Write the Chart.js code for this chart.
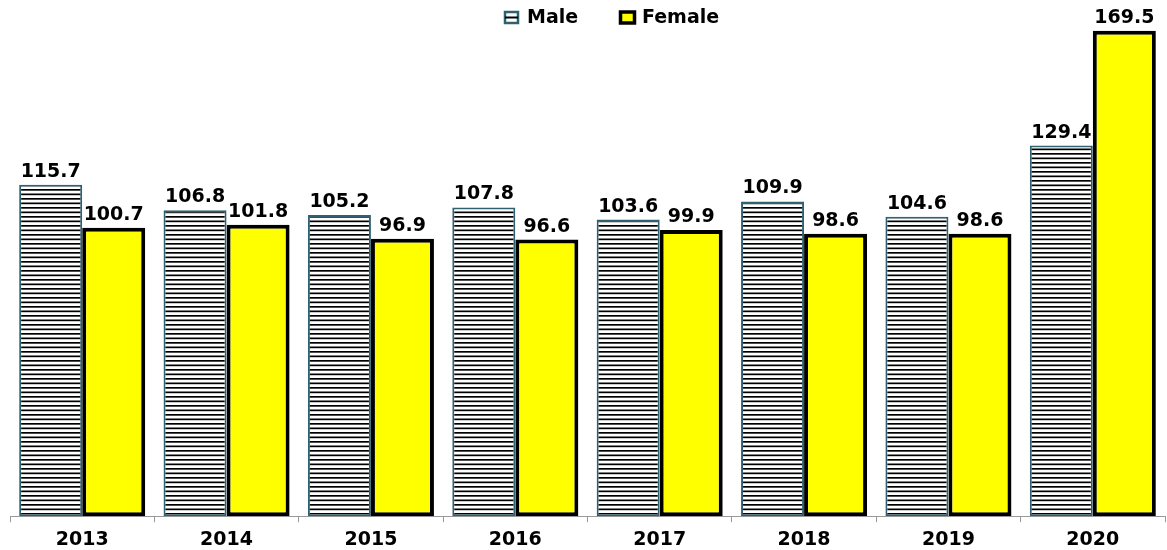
<!DOCTYPE html>
<html>
<head>
<meta charset="utf-8">
<script src="https://cdn.jsdelivr.net/npm/chart.js@4.4.1/dist/chart.umd.min.js"></script>
<style>
  html, body { margin: 0; padding: 0; background: #ffffff; }
  #box { width: 1167px; height: 550px; position: relative; }
</style>
</head>
<body>
<div id="box"><canvas id="graficoSexo"></canvas></div>
<script>
// ==========================
// DATA
// ==========================
const anos = ["2013", "2014", "2015", "2016", "2017", "2018", "2019", "2020"];
const valoresMale = [115.7, 106.8, 105.2, 107.8, 103.6, 109.9, 104.6, 129.4];
const valoresFemale = [100.7, 101.8, 96.9, 96.6, 99.9, 98.6, 98.6, 169.5];
const nomesSeries = ["Male", "Female"];

const FONTE = "bold 19px 'DejaVu Sans', Arial, sans-serif";

// horizontal stripes for the Male bars
function criarListras() {
  const c = document.createElement("canvas");
  c.width = 8;
  c.height = 9;
  const ctx = c.getContext("2d");
  ctx.fillStyle = "#ffffff";
  ctx.fillRect(0, 0, 8, 9);
  ctx.fillStyle = "#000000";
  ctx.fillRect(0, 0, 8, 1.7);
  ctx.fillRect(0, 4.5, 8, 1.7);
  return ctx.createPattern(c, "repeat");
}

const listras = criarListras();

// ==========================
// VALUE LABELS + LEGEND
// ==========================
const rotulosPlugin = {
  id: "rotulos",
  afterDatasetsDraw(chart) {
    const ctx = chart.ctx;
    ctx.save();
    ctx.font = FONTE;
    ctx.fillStyle = "#000000";
    ctx.textAlign = "center";
    ctx.textBaseline = "alphabetic";
    chart.data.datasets.forEach((ds, i) => {
      const meta = chart.getDatasetMeta(i);
      meta.data.forEach((bar, j) => {
        ctx.fillText(ds.data[j].toFixed(1), bar.x, bar.y - 8);
      });
    });

    // legend: striped box for Male, yellow box for Female
    const male = chart.data.datasets[0];
    const female = chart.data.datasets[1];
    ctx.fillStyle = "#ffffff";
    ctx.fillRect(504, 11, 15, 12);
    ctx.strokeStyle = male.borderColor;
    ctx.lineWidth = 2.5;
    ctx.strokeRect(505, 12, 13, 11);
    ctx.fillStyle = "#000000";
    ctx.fillRect(505, 16.5, 13, 2);

    ctx.fillStyle = female.backgroundColor;
    ctx.fillRect(619, 11, 17, 13);
    ctx.strokeStyle = female.borderColor;
    ctx.lineWidth = 3.5;
    ctx.strokeRect(620.5, 12, 14, 11);

    ctx.textAlign = "left";
    ctx.textBaseline = "middle";
    ctx.fillStyle = "#000000";
    ctx.fillText(nomesSeries[0], 527, 18);
    ctx.fillText(nomesSeries[1], 642, 18);
    ctx.restore();
  },
};

new Chart(document.getElementById("graficoSexo"), {
  type: "bar",
  data: {
    labels: anos,
    datasets: [
      {
        label: nomesSeries[0],
        data: valoresMale,
        backgroundColor: listras,
        borderColor: "#2f6270",
        borderWidth: 2,
        borderSkipped: false,
        categoryPercentage: 0.873,
        barPercentage: 1,
      },
      {
        label: nomesSeries[1],
        data: valoresFemale,
        backgroundColor: "#ffff00",
        borderColor: "#000000",
        borderWidth: 4,
        borderSkipped: false,
        categoryPercentage: 0.873,
        barPercentage: 1,
      },
    ],
  },
  options: {
    responsive: true,
    maintainAspectRatio: false,
    animation: false,
    layout: {
      padding: { left: 10, right: 2, top: 5, bottom: -7 },
    },
    plugins: {
      legend: { display: false },
      tooltip: { enabled: false },
    },
    scales: {
      x: {
        grid: {
          offset: true,
          drawOnChartArea: false,
          drawTicks: true,
          tickLength: 6,
          color: "#999999",
        },
        border: { display: true, color: "#999999", width: 1 },
        ticks: {
          color: "#000000",
          padding: 6,
          font: { family: "'DejaVu Sans', Arial, sans-serif", size: 19, weight: "bold" },
        },
      },
      y: {
        display: false,
        min: 0,
        max: 178.5,
      },
    },
  },
  plugins: [rotulosPlugin],
});
</script>
</body>
</html>
